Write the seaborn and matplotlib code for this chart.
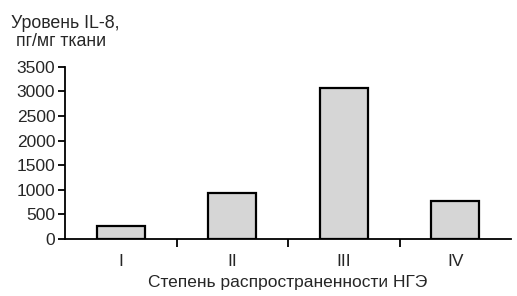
import matplotlib
matplotlib.use("Agg")
import matplotlib.pyplot as plt
import seaborn as sns
import pandas as pd

categories = ["I", "II", "III", "IV"]
values = [270, 930, 3070, 780]
yticks = [0, 500, 1000, 1500, 2000, 2500, 3000, 3500]

sns.set_style("ticks")
plt.rcParams['font.family'] = ['Liberation Sans', 'DejaVu Sans']

fig = plt.figure(figsize=(5.17, 2.96), dpi=100)
ax = fig.add_axes([65/517, 1-239/296, (511-65)/517, (239-66.7)/296])

df = pd.DataFrame({"cat": categories, "val": values})
sns.barplot(data=df, x="cat", y="val", ax=ax, color="#d6d6d6", saturation=1,
            width=0.43, edgecolor="black", linewidth=1.6)

ax.set_xlim(-0.5, 3.5)
ax.set_ylim(0, 3500)
ax.set_yticks(yticks)
ax.set_yticklabels([str(v) for v in yticks], fontsize=12.5)
ax.set_xticks(range(len(categories)))
ax.set_xticklabels(categories, fontsize=12.5)
ax.tick_params(axis='x', which='major', length=0, pad=11)
ax.set_xticks([0.5, 1.5, 2.5], minor=True)
ax.tick_params(axis='x', which='minor', length=6, width=1.3, direction='out', color='black')
ax.tick_params(axis='y', length=5, width=1.3, pad=2, color='black')
for s in ["top", "right"]:
    ax.spines[s].set_visible(False)
for s in ["left", "bottom"]:
    ax.spines[s].set_linewidth(1.3)
    ax.spines[s].set_color("black")
ax.set_xlabel("Степень распространенности НГЭ", fontsize=12.5, labelpad=4)
ax.set_ylabel("")

fig.text(11/517, 1-28/296, "Уровень IL-8,", fontsize=12.8, ha="left", va="baseline")
fig.text(16/517, 1-46/296, "пг/мг ткани", fontsize=12.8, ha="left", va="baseline")

fig.savefig("out.png", dpi=100, facecolor="white")
